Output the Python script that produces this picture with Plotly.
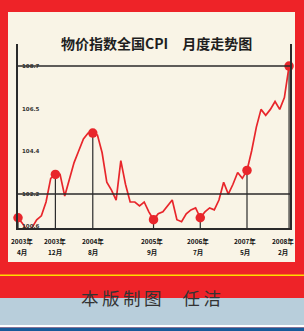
import plotly.graph_objects as go

# ---- data: China CPI (index, same month last year = 100), Apr 2003 .. Feb 2008
months = [
    "2003-04","2003-05","2003-06","2003-07","2003-08","2003-09","2003-10","2003-11","2003-12",
    "2004-01","2004-02","2004-03","2004-04","2004-05","2004-06","2004-07","2004-08","2004-09","2004-10","2004-11","2004-12",
    "2005-01","2005-02","2005-03","2005-04","2005-05","2005-06","2005-07","2005-08","2005-09","2005-10","2005-11","2005-12",
    "2006-01","2006-02","2006-03","2006-04","2006-05","2006-06","2006-07","2006-08","2006-09","2006-10","2006-11","2006-12",
    "2007-01","2007-02","2007-03","2007-04","2007-05","2007-06","2007-07","2007-08","2007-09","2007-10","2007-11","2007-12",
    "2008-01","2008-02",
]
cpi = [
    101.0,100.7,100.3,100.5,100.9,101.1,101.8,103.0,103.2,
    103.2,102.1,103.0,103.8,104.4,105.0,105.3,105.3,105.2,104.3,102.8,102.4,
    101.9,103.9,102.7,101.8,101.8,101.6,101.8,101.3,100.9,101.2,101.3,101.6,
    101.9,100.9,100.8,101.2,101.4,101.5,101.0,101.3,101.5,101.4,101.9,102.8,
    102.2,102.7,103.3,103.0,103.4,104.4,105.6,106.5,106.2,106.5,106.9,106.5,
    107.1,108.7,
]
highlight_months = ["2003-04","2003-12","2004-08","2005-09","2006-07","2007-05","2008-02"]
label_years = ["2003年","2003年","2004年","2005年","2006年","2007年","2008年"]
label_months = ["4月","12月","8月","9月","7月","5月","2月"]
y_ticks = [108.7, 106.5, 104.4, 102.2, 100.6]
y_ticktext = ["108.7", "106.5", "104.4", "102.2", "100.6"]
grid_values = [108.7, 102.2]

title = "物价指数全国CPI　月度走势图"
credit = "本\u2009版\u2009制\u2009图\u3000\u2009任\u2009洁"

# ---- layout helpers
W, H = 304, 331
L, R, T, B = 18, 14, 44, 103
PW, PH = W - L - R, H - T - B
def px(x): return (x - L) / PW
def py(y): return (H - B - y) / PH

idx = list(range(len(months)))
hi_idx = [months.index(m) for m in highlight_months]
hi_val = [cpi[i] for i in hi_idx]
y_min, y_max = 100.48, 109.82

RED = "#e8262b"
DARK = "#2a2a2a"

fig = go.Figure()

# vertical drop lines from highlighted points
vx, vy = [], []
for i, v in zip(hi_idx, hi_val):
    vx += [i, i, None]
    vy += [v, y_min, None]
fig.add_trace(go.Scatter(x=vx, y=vy, mode="lines", line=dict(color=DARK, width=1.2),
                         hoverinfo="skip", showlegend=False))

fig.add_trace(go.Scatter(x=idx, y=cpi, mode="lines", line=dict(color=RED, width=1.7),
                         showlegend=False))
fig.add_trace(go.Scatter(x=hi_idx, y=hi_val, mode="markers",
                         marker=dict(color=RED, size=9.5), cliponaxis=False,
                         showlegend=False))

shapes = [
    dict(type="rect", xref="paper", yref="paper", x0=px(8), x1=px(295), y0=py(262), y1=py(12),
         fillcolor="#f9f4e6", line=dict(width=0), layer="below"),
    dict(type="rect", xref="paper", yref="paper", x0=px(0), x1=px(304), y0=py(276), y1=py(274.5),
         fillcolor="#ffdd00", line=dict(width=0), layer="below"),
    dict(type="rect", xref="paper", yref="paper", x0=px(0), x1=px(304), y0=py(325), y1=py(298),
         fillcolor="#b8cedb", line=dict(width=0), layer="below"),
    dict(type="rect", xref="paper", yref="paper", x0=px(0), x1=px(304), y0=py(327.5), y1=py(325),
         fillcolor="#ffffff", line=dict(width=0), layer="below"),
    dict(type="rect", xref="paper", yref="paper", x0=px(0), x1=px(304), y0=py(331), y1=py(327.5),
         fillcolor="#175a99", line=dict(width=0), layer="below"),
]
for g in grid_values:
    shapes.append(dict(type="line", xref="paper", yref="y", x0=0, x1=1, y0=g, y1=g,
                       line=dict(color=DARK, width=1.5)))

annotations = [
    dict(text=title, xref="paper", yref="paper", x=px(156), y=py(31), showarrow=False,
         font=dict(family="Noto Sans CJK SC", size=14, color="#1e1e1e", weight="bold")),
    dict(text=credit, xref="paper", yref="paper", x=px(151), y=py(311.5), showarrow=False,
         font=dict(family="Noto Sans CJK SC", size=17.5, color="#333333")),
]
# y tick labels, just right of the left axis
for v, t in zip(y_ticks, y_ticktext):
    annotations.append(dict(text=t, xref="paper", yref="y", x=px(20), y=v, xanchor="left",
                            yanchor="middle", showarrow=False,
                            font=dict(family="DejaVu Sans", size=5.5, color="#333333",
                                      weight="bold")))
xshifts = [4, 0, 0, -2, -2, -2, -6]
lab_font = dict(family="Noto Sans CJK SC", size=6.5, color="#111111", weight="bold")
for i, ly, lm, s in zip(hi_idx, label_years, label_months, xshifts):
    annotations.append(dict(text=ly, x=i, xref="x", yref="paper", y=py(241), showarrow=False,
                            xshift=s, yanchor="middle", font=lab_font))
    annotations.append(dict(text=lm, x=i, xref="x", yref="paper", y=py(251.5), showarrow=False,
                            xshift=s, yanchor="middle", font=lab_font))

fig.update_layout(
    width=W, height=H,
    margin=dict(l=L, r=R, t=T, b=B, pad=0),
    paper_bgcolor="#ee2328",
    plot_bgcolor="rgba(0,0,0,0)",
    shapes=shapes,
    annotations=annotations,
    xaxis=dict(range=[0, 58.2], showgrid=False, zeroline=False, showticklabels=False,
               ticks="", showline=True, linecolor=DARK, linewidth=1.5, fixedrange=True),
    yaxis=dict(range=[y_min, y_max], showgrid=False, zeroline=False, showticklabels=False,
               ticks="", showline=True, mirror=True, linecolor=DARK, linewidth=1.5,
               fixedrange=True),
    showlegend=False,
)

fig.write_html("out.html", config={"displayModeBar": False},
               post_script="document.body.style.margin='0px';document.body.style.overflow='hidden';")
